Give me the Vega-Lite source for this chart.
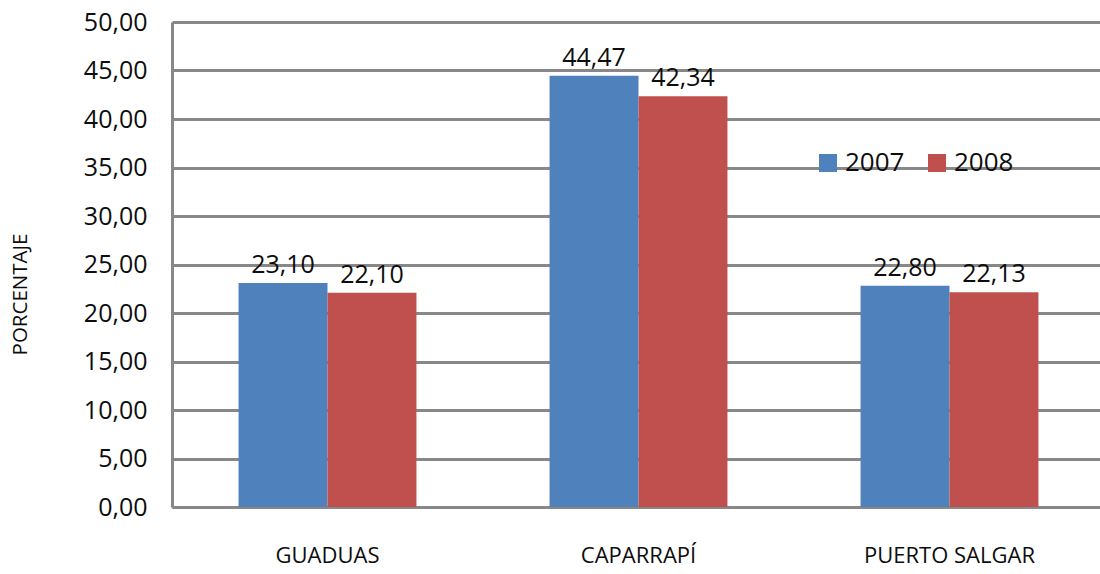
{
  "$schema": "https://vega.github.io/schema/vega-lite/v6.json",
  "width": 933,
  "height": 485,
  "autosize": "none",
  "padding": {"left": 172, "top": 22, "right": 0, "bottom": 67},
  "background": "white",
  "config": {
    "locale": {"number": {"decimal": ",", "thousands": ".", "grouping": [3], "currency": ["$", ""]}},
    "view": {"stroke": null},
    "font": "Open Sans"
  },
  "data": {
    "values": [
      {"municipio": "GUADUAS", "anio": "2007", "valor": 23.10},
      {"municipio": "GUADUAS", "anio": "2008", "valor": 22.10},
      {"municipio": "CAPARRAPÍ", "anio": "2007", "valor": 44.47},
      {"municipio": "CAPARRAPÍ", "anio": "2008", "valor": 42.34},
      {"municipio": "PUERTO SALGAR", "anio": "2007", "valor": 22.80},
      {"municipio": "PUERTO SALGAR", "anio": "2008", "valor": 22.13}
    ]
  },
  "encoding": {
    "x": {
      "field": "municipio",
      "type": "nominal",
      "sort": ["GUADUAS", "CAPARRAPÍ", "PUERTO SALGAR"],
      "scale": {"range": [0, 933], "paddingInner": 0.428, "paddingOuter": 0.214},
      "axis": {
        "title": null,
        "labelAngle": 0,
        "labelFontSize": 22,
        "labelColor": "#0d0d0d",
        "labelPadding": 38,
        "ticks": false,
        "tickSize": 0,
        "domainColor": "#888888",
        "domainWidth": 3
      }
    },
    "xOffset": {"field": "anio", "type": "nominal", "scale": {"paddingInner": 0, "paddingOuter": 0}},
    "y": {
      "field": "valor",
      "type": "quantitative",
      "scale": {"domain": [0, 50], "nice": false},
      "axis": {
        "title": "PORCENTAJE",
        "titleFontSize": 20.5,
        "titleFontWeight": "normal",
        "titleColor": "#0d0d0d",
        "titleX": -152,
        "titleY": 272,
        "titleAngle": -90,
        "titleAlign": "center",
        "titleBaseline": "middle",
        "values": [0, 5, 10, 15, 20, 25, 30, 35, 40, 45, 50],
        "format": ".2f",
        "labelFontSize": 25,
        "labelColor": "#0d0d0d",
        "labelPadding": 25,
        "ticks": false,
        "tickSize": 0,
        "grid": true,
        "gridColor": "#888888",
        "gridWidth": 3,
        "domainColor": "#888888",
        "domainWidth": 3
      }
    }
  },
  "layer": [
    {
      "mark": {"type": "bar"},
      "encoding": {
        "color": {
          "field": "anio",
          "type": "nominal",
          "scale": {"domain": ["2007", "2008"], "range": ["#4F81BD", "#C0504D"]},
          "legend": {
            "title": null,
            "orient": "none",
            "direction": "horizontal",
            "legendX": 643,
            "legendY": 128,
            "symbolType": "square",
            "symbolSize": 324,
            "symbolStrokeWidth": 0,
            "labelFontSize": 26,
            "labelColor": "#0d0d0d",
            "labelOffset": 4,
            "columnPadding": 19
          }
        }
      }
    },
    {
      "mark": {"type": "text", "baseline": "alphabetic", "dy": -10, "fontSize": 25, "color": "#0d0d0d"},
      "encoding": {
        "text": {"field": "valor", "type": "quantitative", "format": ".2f"}
      }
    }
  ]
}
